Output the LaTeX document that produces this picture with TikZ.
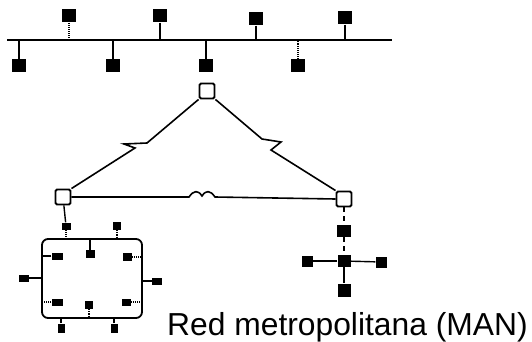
\documentclass[tikz,border=0pt]{standalone}
\usepackage{fontspec}
\setmainfont{Liberation Sans}
\begin{document}
\begin{tikzpicture}[x=1pt,y=-1pt,
  term/.style={fill=black,draw=none,inner sep=0pt,minimum width=14pt,minimum height=13pt},
  host/.style={fill=black,draw=none,inner sep=0pt,minimum width=10pt,minimum height=8pt},
  router/.style={draw=black,line width=1.9pt,fill=white,inner sep=0pt,minimum size=15pt,rounded corners=1.5pt},
  wire/.style={line width=1.6pt},
  stub/.style={line width=1.4pt},
  faint/.style={line width=1.1pt,densely dotted},
  gapped/.style={line width=1.5pt,dash pattern=on 5pt off 4pt}]
\useasboundingbox (0,0) rectangle (532,342);

% ---- backbone bus with its stations ----
\coordinate (busW) at (7,40);
\coordinate (busE) at (392,40);
\draw[line width=1.2pt] (busW) -- (busE);

\node[term] (u1) at (69,16) {};
\node[term] (u2) at (160,16) {};
\node[term] (u3) at (256,19) {};
\node[term] (u4) at (345,18) {};
\node[term] (d1) at (19,66) {};
\node[term] (d2) at (113,66) {};
\node[term] (d3) at (206,66) {};
\node[term] (d4) at (298,66) {};

\draw[faint] (u1) -- (u1 |- busW);
\draw[stub] (u2) -- (u2 |- busW);
\draw[stub] (u3) -- (u3 |- busW);
\draw[stub] (u4) -- (u4 |- busW);
\draw[stub] (d1) -- (d1 |- busW);
\draw[stub] (d2) -- (d2 |- busW);
\draw[stub] (d3) -- (d3 |- busW);
\draw[faint] (d4) -- (d4 |- busW);

% ---- routers of the metropolitan triangle ----
\node[router] (rT) at (207,91) {};
\node[router] (rL) at (63,197) {};
\node[router] (rR) at (344,199) {};

% break marks on the long-haul links
\coordinate (zL1) at (147,143);
\coordinate (zL2) at (124,144);
\coordinate (zL3) at (135,148);
\coordinate (zR1) at (262,139);
\coordinate (zR2) at (281,142);
\coordinate (zR3) at (271,150);
\draw[wire] (rT.south west) -- (zL1) -- (zL2) -- (zL3) -- (rL.north east);
\draw[wire] (rT.south east) -- (zR1) -- (zR2) -- (zR3) -- (rR.north west);

% bottom link with its wave mark
\coordinate (hA) at (189,197);
\coordinate (hB) at (202,196);
\coordinate (hC) at (215,197);
\draw[wire] (rL.east) -- (hA) .. controls (194,190) and (198,190) .. (hB)
  .. controls (206,190) and (210,190) .. (hC) -- (rR.west);

% ---- ring LAN under the left router ----
\node[draw,line width=1.8pt,rounded corners=6pt,minimum width=100pt,minimum height=79pt,inner sep=0pt] (ring) at (92,278.5) {};

\node[host,minimum width=9pt,minimum height=7pt] (g1) at (66,226) {};
\node[host,minimum width=8pt] (g2) at (117,226) {};
\node[host,minimum height=7pt] (g3) at (24,278) {};
\node[host,minimum height=7pt] (g4) at (157,281) {};
\node[host,minimum width=7pt,minimum height=9pt] (g5) at (61,328) {};
\node[host,minimum width=7pt,minimum height=9pt] (g6) at (114,328) {};

\node[host,minimum width=11pt,minimum height=7pt] (k1) at (57,256) {};
\node[host,minimum width=9pt] (k2) at (90,254) {};
\node[host,minimum width=9pt] (k3) at (127,257) {};
\node[host,minimum width=11pt,minimum height=7pt] (k4) at (57,302) {};
\node[host,minimum width=8pt] (k5) at (89,305) {};
\node[host,minimum width=9pt,minimum height=7pt] (k6) at (126,302) {};

\draw[stub] (rL) -- (g1);
\draw[faint] (g1) -- (g1 |- ring.north);
\draw[faint] (g2) -- (g2 |- ring.north);
\draw[stub] (g3) -- (g3 -| ring.west);
\draw[stub] (g4) -- (g4 -| ring.east);
\draw[stub] (g5) -- (g5 |- ring.south);
\draw[stub] (g6) -- (g6 |- ring.south);
\draw[stub] (k1) -- (k1 -| ring.west);
\draw[stub] (k2) -- (k2 |- ring.north);
\draw[faint] (k3) -- (k3 -| ring.east);
\draw[faint] (k4) -- (k4 -| ring.west);
\draw[faint] (k5) -- (k5 |- ring.south);
\draw[faint] (k6) -- (k6 -| ring.east);

% ---- star LAN under the right router ----
\node[term,minimum height=12pt] (s0) at (344,231) {};
\node[term,minimum width=13pt,minimum height=12pt] (hub) at (344,261) {};
\node[term,minimum width=11pt,minimum height=11pt] (sW) at (307,261) {};
\node[term,minimum width=11pt,minimum height=11pt] (sE) at (381,262) {};
\node[term,minimum width=13pt] (sS) at (344,290) {};

\draw[gapped] (rR) -- (s0);
\draw[gapped] (s0) -- (hub);
\draw[stub] (hub) -- (sW);
\draw[stub] (hub) -- (sE);
\draw[stub] (hub) -- (sS);

% ---- caption ----
\node[anchor=base west,inner sep=0pt,font=\fontsize{31.8}{38}\selectfont] (cap) at (167,335) {Red metropolitana (MAN)};
\end{tikzpicture}
\end{document}
